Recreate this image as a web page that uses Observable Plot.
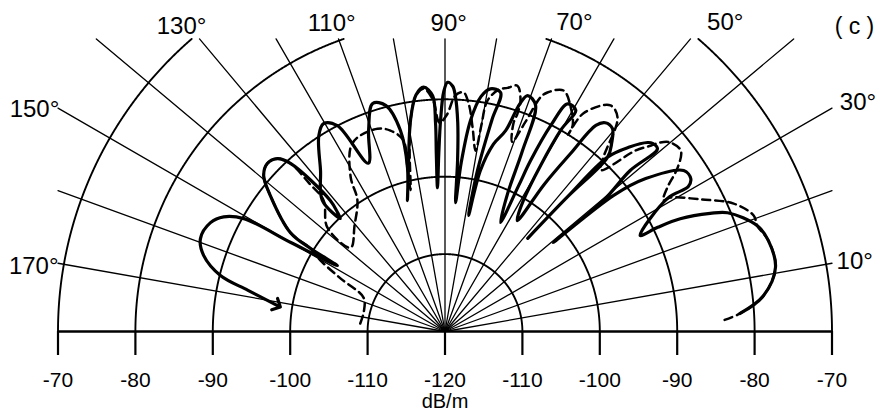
<!DOCTYPE html>
<html>
<head>
<meta charset="utf-8">
<script src="https://cdn.jsdelivr.net/npm/d3@7"></script>
<script src="https://cdn.jsdelivr.net/npm/@observablehq/plot@0.6"></script>
<style>
  html, body { margin: 0; padding: 0; background: #fff; }
  #chart svg { display: block; }
</style>
</head>
<body>
<div id="chart"></div>
<script>
// ---------------- data ----------------
// radial axis tick labels (dB/m), left to right along the baseline
const dbTickLabels = [-70, -80, -90, -100, -110, -120, -110, -100, -90, -80, -70];
// ring levels drawn as arcs (dB/m)
const ringLevels = [-110, -100, -90, -80, -70];
// spoke angles (degrees)
const spokeAngles = [10, 20, 30, 40, 50, 60, 70, 80, 90, 100, 110, 120, 130, 140, 150, 160, 170];
// labelled angles
const angleLabels = ["10°", "30°", "50°", "70°", "90°", "110°", "130°", "150°", "170°"];
const panelLabel = "( c )";
const axisTitle = "dB/m";

// solid pattern: [angle in degrees, level in dB/m]
const solidPattern = [
  [171.2, -98.1], [168.2, -94], [166, -90.1], [162.5, -87.3], [159.2, -86.2], [155.1, -86.6],
  [152.6, -87.8], [150.7, -90.2], [150, -97], [148.5, -103.7],
  [148.3, -99.6], [147.4, -96.3], [142.1, -91.4], [139.3, -89.1], [136.6, -88.4], [134.1, -88.9],
  [132.6, -90.5], [131.2, -97.5], [132.1, -99.3], [132.8, -100.1],
  [133.1, -96.8], [127.7, -93.7], [122.8, -89.9], [120.3, -88.9], [117.6, -90], [114.5, -96.1],
  [110.8, -92.2], [107.6, -89.1], [104.7, -89.8], [102.5, -93.4], [102.9, -98.3], [106, -102.4],
  [102.4, -98], [99.3, -92.4], [97, -89.2], [95, -88.3], [93, -89.5], [92.6, -93], [92.8, -97], [93, -101.4],
  [92, -97], [91.2, -92.7], [90.3, -89], [89.4, -87.8], [88.2, -88.3], [87.5, -89.5], [86.5, -93],
  [85.8, -97.8], [85.3, -103.3],
  [84.5, -98], [83.1, -92.5], [81.3, -89.3], [79.4, -88.1], [76.9, -88.3], [77.5, -92], [78.6, -98.8], [78.5, -104.7],
  [77.6, -98.7], [75.5, -95], [73.2, -92.9], [71.8, -89], [70.7, -87.7], [68.2, -88.5], [66.8, -94.6],
  [65.6, -100.4], [63, -104.2],
  [63.2, -99], [63.4, -95.3], [62.8, -90], [61.7, -86.6], [59.4, -86.8], [60.1, -90], [59.1, -100.3], [56.9, -102.9],
  [56, -97], [54.8, -91.9], [53.8, -87], [52.5, -86], [50.5, -86], [48.5, -87.5], [47, -89.2], [47.7, -96.5], [48.4, -103.9],
  [47.7, -96.5], [47, -89.2], [45, -86.3], [43, -84.2], [42.2, -83.8], [40.7, -83.8], [41, -88.3], [39.6, -93.4], [39.4, -101.9],
  [38.9, -92], [37.3, -87.4], [34, -82.8], [31.9, -82.6], [30.8, -83.4], [30.9, -86.5], [26.2, -91.9],
  [26.1, -89.4], [25.6, -86.3], [24, -82.5], [22.8, -80.4], [18.7, -77.4], [15.7, -76.6], [11, -76.5],
  [6.4, -78.6], [3.5, -81.8]
];

// dashed pattern: [angle in degrees, level in dB/m]
const dashedPattern = [
  [174.6, -109], [166, -109.2], [157.4, -108.6], [153.1, -104.9], [150.3, -101.5], [148.3, -99.6],
  [147.4, -96.3], [142.1, -91.4], [139.3, -89.1], [136.6, -88.4], [134.1, -88.9], [132.6, -90.5],
  [132.5, -94], [132.8, -96.9], [138.5, -99.7], [138.4, -103.7], [130.5, -102], [123.7, -99.6],
  [121.5, -96.7], [117.2, -93.3], [114.3, -92.5], [108.4, -92.4], [105.2, -93.1], [102.3, -94.7],
  [102.9, -98.3], [103.7, -101.2], [101, -96], [99.3, -92.4], [97, -89.3], [95, -88.5], [93, -90],
  [91.5, -93], [89.5, -92], [87.5, -89.5], [85.6, -89], [84, -90.5], [82.3, -93.4], [80.4, -96.3],
  [80, -93], [79.6, -89.7], [77.5, -88], [75.6, -87.5], [73.6, -86.9], [71.9, -88.6], [71.6, -90.3],
  [71.8, -91.7], [70.5, -94], [69, -91], [67.8, -87.3], [66.8, -86.4], [63.8, -85.3], [60.7, -86.8],
  [58.2, -88.7], [58, -90], [57.6, -86.6], [53.8, -83.8], [51.1, -84.5], [47.7, -89.6], [46, -91],
  [43.5, -86], [42.1, -84.2], [41.3, -83], [40, -82], [37.5, -81.6], [35.2, -83.2], [32.9, -85.8],
  [31, -87.1], [30.7, -86.1], [27.3, -82.8], [23.9, -79.2], [20.6, -77.4], [18.7, -77.4], [15.7, -76.6],
  [11, -76.5], [6.4, -78.6], [3.5, -81.8], [2.3, -84]
];

// ---------------- layout ----------------
const CENTER_DB = -120;          // level at the pole
const OUTER_DB = -70;            // level at the ends of the baseline
const TOP_LIMIT = 37.8;          // grid is cut off here (in dB above the pole)
// where each angle label sits: [polar angle, dB above pole]
const angleLabelPlace = [[9.7, 53.7], [29.0, 61.0], [47.8, 53.9], [67.3, 43.3], [89.3, 39.8],
                         [110.2, 42.4], [130.8, 52.1], [151.6, 60.3], [171.0, 53.8]];
const panelLabelPlace = [52.9, 39.4];   // x, y in plot units
const titlePlace = [0, -9.0];

// ---------------- geometry helpers ----------------
const deg = Math.PI / 180;
const R = db => db - CENTER_DB;
const RMAX = R(OUTER_DB);
const toXY = ([a, db]) => ({x: R(db) * Math.cos(a * deg), y: R(db) * Math.sin(a * deg)});

const solid = solidPattern.map(toXY).reverse();   // reversed so the arrow sits at the end
const dashed = dashedPattern.map(toXY);

const spokes = spokeAngles.flatMap(a => {
  const c = Math.cos(a * deg), s = Math.sin(a * deg);
  const rEnd = Math.min(Math.abs(c) > 1e-9 ? RMAX / Math.abs(c) : Infinity, TOP_LIMIT / s);
  return [{a, x: 0, y: 0}, {a, x: rEnd * c, y: rEnd * s}];
});

const arcs = [];
for (const lvl of ringLevels) {
  const r = R(lvl);
  let seg = 0, prevIn = false;
  for (let t = 0; t <= 1800; t++) {
    const a = t / 10;
    const x = r * Math.cos(a * deg), y = r * Math.sin(a * deg);
    const inside = y <= TOP_LIMIT + 1e-9;
    if (inside) {
      if (!prevIn) seg++;
      arcs.push({k: lvl + ":" + seg, x, y});
    }
    prevIn = inside;
  }
}

const tickPos = dbTickLabels.map((d, i) => (i < 5 ? -1 : 1) * R(d));
const tickText = new Map(tickPos.map((p, i) => [p, String(dbTickLabels[i])]));

const labels = angleLabels.map((t, i) => {
  const [a, r] = angleLabelPlace[i];
  return {t, x: r * Math.cos(a * deg), y: r * Math.sin(a * deg)};
});

const FONT = "'Liberation Sans', Arial, sans-serif";

const chart = Plot.plot({
  width: 882,
  height: 412,
  marginLeft: 57.5,
  marginRight: 50.5,
  marginTop: 0,
  marginBottom: 81,
  x: {domain: [-RMAX, RMAX], axis: null, label: null},
  y: {domain: [0, 331 / 7.74], axis: null, label: null},
  style: {fontFamily: FONT, background: "#fff", color: "#000", overflow: "visible"},
  marks: [
    Plot.line(spokes, {x: "x", y: "y", z: "a", stroke: "#000", strokeWidth: 1.3}),
    Plot.line(arcs, {x: "x", y: "y", z: "k", stroke: "#000", strokeWidth: 1.9}),
    Plot.ruleY([0], {x1: -RMAX, x2: RMAX, stroke: "#000", strokeWidth: 2.3}),
    Plot.axisX(tickPos, {
      label: null,
      tickSize: 24, tickPadding: 17, strokeWidth: 2.2,
      tickFormat: d => tickText.get(d), fontSize: 21, fontFamily: FONT, fill: "#000"
    }),
    Plot.line(dashed, {x: "x", y: "y", stroke: "#000", strokeWidth: 2.5,
      strokeDasharray: "8,5", curve: "catmull-rom"}),
    Plot.line(solid, {x: "x", y: "y", stroke: "#000", strokeWidth: 3.2,
      curve: "catmull-rom", markerEnd: "arrow", strokeLinejoin: "round"}),
    Plot.text(labels, {x: "x", y: "y", text: "t", fontSize: 24, fontFamily: FONT,
      fill: "#000", textAnchor: "middle", lineAnchor: "middle"}),
    Plot.text([panelLabel], {x: () => panelLabelPlace[0], y: () => panelLabelPlace[1], text: d => d,
      fontSize: 23, fontFamily: FONT, fill: "#000", textAnchor: "middle", lineAnchor: "middle"}),
    Plot.text([axisTitle], {x: () => titlePlace[0], y: () => titlePlace[1], text: d => d,
      fontSize: 20, fontFamily: FONT, fill: "#000", textAnchor: "middle", lineAnchor: "middle"})
  ]
});
document.getElementById("chart").appendChild(chart);
</script>
</body>
</html>
